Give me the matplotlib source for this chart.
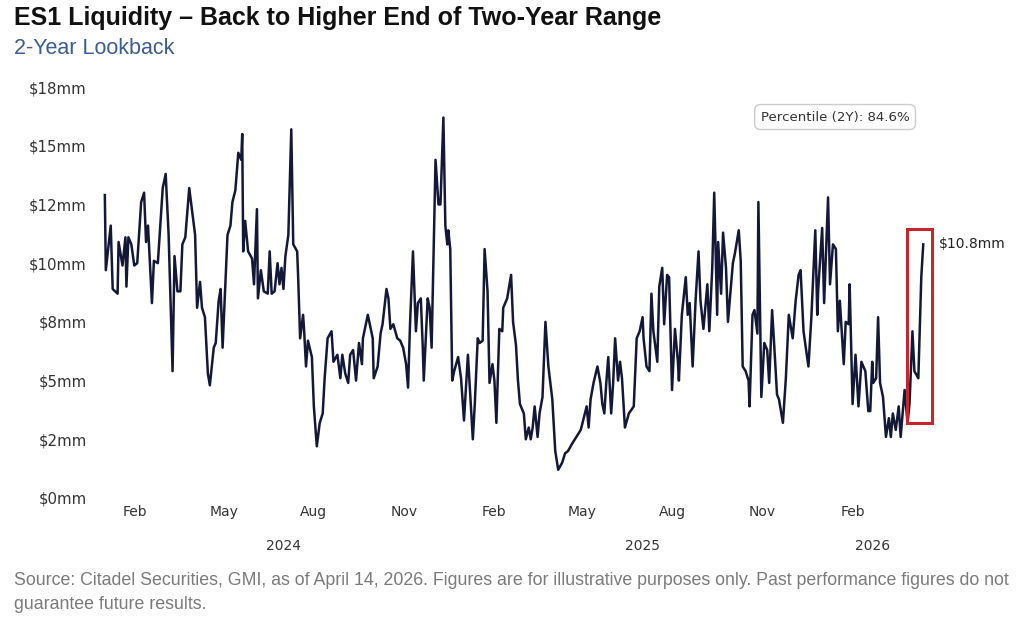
import matplotlib
matplotlib.use("Agg")
import matplotlib.pyplot as plt
import matplotlib.dates as mdates
from matplotlib.ticker import FuncFormatter
from matplotlib.patches import Rectangle
import matplotlib.transforms as mtransforms
import pandas as pd

# ES1 liquidity ($mm); x = days since 2024-01-01
day_offsets = [
    0, 1, 6, 8, 13, 14, 18, 21, 22, 24, 27, 30, 33, 37, 40, 42, 44, 48, 50, 54,
    59, 62, 65, 69, 71, 74, 77, 79, 82, 86, 92, 94, 97, 99, 102, 105, 107, 111, 113, 116,
    118, 120, 125, 128, 130, 133, 136, 139, 140, 141, 143, 146, 150, 152, 155, 156, 159, 162, 166, 168,
    170, 173, 176, 178, 180, 182, 184, 187, 190, 192, 196, 197, 199, 202, 203, 205, 207, 211, 213, 216,
    219, 222, 224, 227, 231, 233, 237, 240, 242, 245, 248, 250, 253, 256, 259, 262, 263, 268, 273, 274,
    278, 281, 283, 287, 289, 291, 294, 298, 301, 304, 307, 309, 311, 314, 317, 319, 322, 324, 325, 329,
    331, 333, 337, 340, 342, 345, 347, 349, 350, 352, 354, 356, 360, 363, 366, 370, 375, 377, 380, 382,
    385, 387, 390, 392, 395, 397, 399, 402, 405, 406, 410, 414, 416, 419, 421, 423, 427, 429, 432, 434,
    436, 438, 441, 443, 446, 449, 452, 456, 459, 462, 466, 469, 472, 476, 482, 485, 488, 491, 493, 495,
    498, 502, 505, 507, 509, 511, 513, 516, 518, 520, 523, 525, 527, 530, 534, 539, 542, 545, 548, 549,
    552, 555, 557, 559, 563, 565, 568, 570, 573, 575, 578, 581, 584, 585, 588, 592, 594, 596, 599, 602,
    605, 607, 610, 614, 616, 619, 621, 624, 625, 628, 630, 633, 635, 640, 642, 646, 648, 650, 653, 656,
    657, 660, 662, 665, 666, 669, 672, 675, 677, 680, 682, 685, 687, 691, 694, 697, 701, 704, 707, 709,
    712, 717, 720, 724, 726, 727, 731, 733, 737, 739, 742, 745, 747, 749, 753, 755, 758, 759, 762, 765,
    768, 771, 775, 778, 780, 782, 783, 786, 788, 790, 793, 796, 799, 801, 803, 806, 809, 811, 813, 815,
    818, 820, 823, 825, 829, 832, 834,
]
liquidity = [
    12.9, 9.7, 11.6, 8.9, 8.7, 10.9, 9.9, 11.1, 9.0, 11.1, 10.8, 9.9, 10.0, 12.6, 13.0, 10.9, 11.6, 8.3, 10.1, 10.0,
    13.2, 13.8, 11.2, 5.4, 10.3, 8.8, 8.8, 10.8, 11.1, 13.2, 11.2, 8.1, 9.2, 8.1, 7.7, 5.3, 4.8, 6.4, 6.6, 8.4,
    8.9, 6.4, 11.2, 11.6, 12.6, 13.1, 14.7, 14.4, 15.5, 10.5, 11.8, 10.5, 10.2, 9.1, 12.3, 8.5, 9.7, 8.8, 8.7, 10.5,
    8.7, 8.8, 10.0, 9.1, 9.8, 8.9, 10.3, 11.2, 15.7, 10.8, 10.5, 9.4, 6.8, 7.8, 7.2, 5.6, 6.7, 6.0, 3.9, 2.2,
    3.2, 3.6, 5.1, 6.8, 7.1, 5.8, 6.1, 5.1, 6.1, 5.3, 4.9, 6.1, 6.3, 5.0, 6.6, 5.7, 6.8, 7.8, 6.8, 5.1,
    5.6, 7.0, 7.4, 8.9, 8.5, 7.2, 7.4, 6.8, 6.7, 6.4, 5.7, 4.7, 7.4, 10.5, 7.1, 8.3, 8.5, 6.4, 5.0, 8.5,
    8.1, 6.4, 14.4, 12.5, 12.5, 16.2, 11.6, 10.8, 11.4, 10.6, 5.0, 5.4, 6.0, 5.1, 3.3, 6.1, 2.5, 4.0, 6.8, 6.6,
    6.7, 10.6, 8.8, 4.9, 5.7, 5.0, 3.2, 7.2, 7.1, 8.1, 8.5, 9.5, 7.5, 6.5, 5.0, 4.0, 3.6, 2.5, 3.0, 2.5,
    3.0, 3.9, 2.6, 3.6, 4.3, 7.5, 5.6, 4.2, 2.0, 1.2, 1.5, 1.9, 2.0, 2.3, 2.7, 2.9, 3.4, 3.9, 3.0, 4.2,
    4.9, 5.6, 4.9, 4.0, 3.6, 4.9, 6.0, 3.6, 4.9, 6.8, 5.0, 5.8, 5.1, 3.0, 3.6, 3.9, 6.8, 7.1, 7.7, 6.8,
    5.6, 5.4, 8.7, 7.1, 5.8, 9.0, 9.8, 7.4, 9.5, 9.4, 4.6, 7.2, 5.8, 5.0, 7.8, 9.4, 7.8, 8.3, 5.6, 8.4,
    10.5, 8.4, 7.2, 9.1, 7.1, 9.8, 13.0, 7.8, 10.9, 8.7, 11.3, 9.8, 7.5, 10.0, 10.4, 11.4, 10.1, 5.6, 5.4, 5.0,
    3.9, 7.8, 8.0, 7.0, 12.6, 4.3, 6.6, 6.3, 4.9, 8.0, 6.6, 4.4, 4.2, 3.2, 5.1, 7.8, 6.8, 8.4, 9.5, 9.7,
    7.1, 5.6, 7.7, 11.4, 7.8, 8.9, 11.5, 8.3, 12.8, 9.1, 10.8, 10.6, 7.1, 8.4, 5.7, 7.5, 7.4, 9.1, 4.0, 6.1,
    3.9, 5.8, 5.4, 3.7, 3.7, 5.8, 4.9, 5.1, 7.7, 4.9, 4.3, 2.6, 3.4, 2.6, 3.6, 2.9, 3.9, 2.6, 3.6, 4.6,
    3.2, 4.0, 7.1, 5.4, 5.1, 9.4, 10.8,
]
y_ticks = [0, 2.5, 5, 7.5, 10, 12.5, 15, 17.5]
years = [2024, 2025, 2026]

# highlight box on the latest move
box_start, box_end = "2026-03-28", "2026-04-23"
box_low, box_high = 3.2, 11.45

start = pd.Timestamp("2024-01-01")
dates = start + pd.to_timedelta(day_offsets, unit="D")

fig = plt.figure(figsize=(10.24, 6.19), dpi=100)
ax = fig.add_axes([0.0928, 0.1955, 0.8203, 0.6639])

ax.plot(dates, liquidity, color="#131838", linewidth=1.8)

# axis ranges
ax.set_ylim(0, 17.5)
ax.set_xlim(start - pd.Timedelta(days=10), start + pd.Timedelta(days=846))

ax.set_yticks(y_ticks)
ax.yaxis.set_major_formatter(FuncFormatter(lambda v, p: "${:.0f}mm".format(v)))
ax.xaxis.set_major_locator(mdates.MonthLocator(bymonth=[2, 5, 8, 11]))
ax.xaxis.set_major_formatter(mdates.DateFormatter("%b"))
ax.tick_params(axis="both", length=0, labelsize=10, colors="#333333")
ax.tick_params(axis="y", labelsize=10.8, pad=6)
ax.tick_params(axis="x", pad=5)
for s in ax.spines.values():
    s.set_visible(False)

# year labels under the month labels, centred on each year's visible span
trans = mtransforms.blended_transform_factory(ax.transData, ax.transAxes)
last = dates[-1]
for yr in years:
    a = pd.Timestamp(f"{yr}-01-01")
    b = min(pd.Timestamp(f"{yr}-12-31"), last)
    mid = a + (b - a) / 2
    ax.text(mid, -0.118, str(yr), transform=trans, ha="center", va="center",
            fontsize=10, color="#333333")

# red highlight box
b0 = mdates.date2num(pd.Timestamp(box_start))
b1 = mdates.date2num(pd.Timestamp(box_end))
ax.add_patch(Rectangle((b0, box_low), b1 - b0, box_high - box_low,
                       fill=False, edgecolor="#c9252c", linewidth=2.2, zorder=3))

ax.annotate(f"${liquidity[-1]:.1f}mm", xy=(last, liquidity[-1]), xytext=(11, 0),
            textcoords="offset points", va="center", ha="left", fontsize=10,
            color="#222222", annotation_clip=False)

ax.text(0.881, 0.927, "Percentile (2Y): 84.6%", transform=ax.transAxes,
        ha="center", va="center", fontsize=9.6, color="#333333",
        bbox=dict(boxstyle="round,pad=0.45", facecolor="white",
                  edgecolor="#cccccc", linewidth=1))

# titles and footer
fig.text(0.0137, 0.971, "ES1 Liquidity \u2013 Back to Higher End of Two-Year Range",
         ha="left", va="center", fontsize=18, fontweight="bold",
         family="Liberation Sans", color="#111111")
fig.text(0.0137, 0.921, "2-Year Lookback", ha="left", va="center",
         fontsize=15.5, family="Liberation Sans", color="#3b5c94")
fig.text(0.0137, 0.063,
         "Source: Citadel Securities, GMI, as of April 14, 2026. Figures are for "
         "illustrative purposes only. Past performance figures do not",
         ha="left", va="center", fontsize=12.8, family="Liberation Sans",
         color="#7a7a7a")
fig.text(0.0137, 0.024, "guarantee future results.", ha="left", va="center",
         fontsize=12.8, family="Liberation Sans", color="#7a7a7a")

fig.savefig("out.png", dpi=100, facecolor="white")
